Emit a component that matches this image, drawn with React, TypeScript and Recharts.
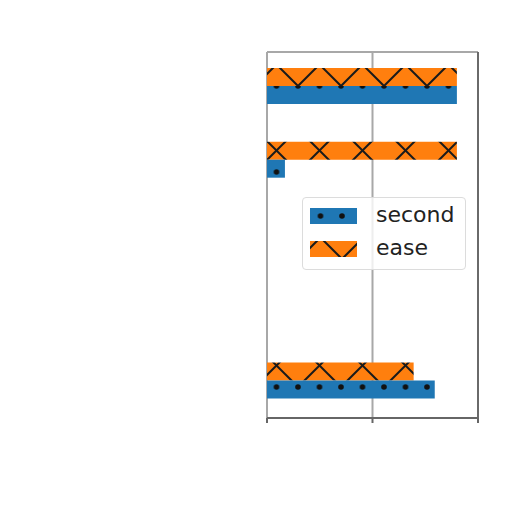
import React from 'react';
import { BarChart, Bar, XAxis, YAxis, CartesianGrid, ReferenceLine } from 'recharts';

// row positions on the numeric y axis (top to bottom)
const positions = [4, 3, 0];
const secondValues = [1.8, 0.17, 1.59];
const easeValues = [1.8, 1.8, 1.39];
const seriesNames = ['second', 'ease'];
const xTicks = [0, 1, 2];
const xDomain: [number, number] = [0, 2];
const yDomain: [number, number] = [-0.51, 4.46];

const BLUE = '#1f77b4';
const ORANGE = '#ff7f0e';

const data = positions.map((y, i) => ({ y, second: secondValues[i], ease: easeValues[i] }));

// hatch lattice anchor in page coordinates
const DOT_X = 298;
const DOT_Y = 86;
const X_P = 43;
const D_P = 21.5;

const mod = (a: number, m: number) => ((a % m) + m) % m;

function Hatches({ id, ox, oy }: { id: string; ox: number; oy: number }) {
  return (
    <defs>
      <pattern id={`${id}-dots`} patternUnits="userSpaceOnUse" width={D_P} height={D_P * 2}
        x={mod(DOT_X - ox, D_P)} y={mod(DOT_Y - oy, D_P * 2)}>
        <rect width={D_P} height={D_P * 2} fill={BLUE} />
        <circle cx={0} cy={0} r={2.8} fill="#111" />
        <circle cx={D_P} cy={0} r={2.8} fill="#111" />
        <circle cx={0} cy={D_P * 2} r={2.8} fill="#111" />
        <circle cx={D_P} cy={D_P * 2} r={2.8} fill="#111" />
        <circle cx={D_P / 2} cy={D_P} r={2.8} fill="#111" />
      </pattern>
      <pattern id={`${id}-cross`} patternUnits="userSpaceOnUse" width={X_P} height={X_P}
        x={mod(DOT_X - ox, X_P)} y={mod(DOT_Y - oy, X_P)}>
        <rect width={X_P} height={X_P} fill={ORANGE} />
        <line x1={-1} y1={-1} x2={X_P + 1} y2={X_P + 1} stroke="#1a1a1a" strokeWidth={2} />
        <line x1={X_P + 1} y1={-1} x2={-1} y2={X_P + 1} stroke="#1a1a1a" strokeWidth={2} />
      </pattern>
    </defs>
  );
}

function LegendBox() {
  const items = [
    { name: seriesNames[0], fill: 'url(#leg0-dots)', id: 'leg0', top: 207 },
    { name: seriesNames[1], fill: 'url(#leg1-cross)', id: 'leg1', top: 240 },
  ];
  return (
    <div style={{
      position: 'absolute', left: 302, top: 197, width: 162, height: 71,
      border: '1px solid #dcdcdc', borderRadius: 4, background: 'rgba(255,255,255,0.8)',
      fontFamily: '"DejaVu Sans", sans-serif', fontSize: 22, color: '#222',
    }}>
      {items.map((it, i) => (
        <div key={it.name} style={{ position: 'absolute', left: 7, top: 9 + i * 33, height: 17, display: 'flex', alignItems: 'center' }}>
          <svg width={47} height={16} style={{ display: 'block' }}>
            <Hatches id={it.id} ox={309} oy={it.top} />
            <rect width={47} height={16} fill={it.fill} />
          </svg>
          <span style={{ marginLeft: 19, lineHeight: '17px', position: 'relative', top: -1 }}>{it.name}</span>
        </div>
      ))}
    </div>
  );
}

export default function App() {
  return (
    <div style={{ position: 'absolute', left: 0, top: 0, width: 512, height: 512, background: '#fff' }}>
      <BarChart
        width={512}
        height={512}
        data={data}
        layout="vertical"
        barSize={18}
        barGap={0}
        margin={{ top: 52, right: 34, bottom: 64, left: 267 }}
      >
        <Hatches id="main" ox={0} oy={0} />
        <CartesianGrid horizontal={false} stroke="#a8a8a8" strokeWidth={2} />
        <XAxis
          type="number"
          domain={xDomain}
          ticks={xTicks}
          tickFormatter={() => ''}
          tickSize={5}
          stroke="#666"
          strokeWidth={2}
          height={30}
        />
        <YAxis type="number" dataKey="y" domain={yDomain} reversed hide />
        <ReferenceLine y={yDomain[1]} stroke="#a8a8a8" strokeWidth={2} />
        <ReferenceLine x={xDomain[1]} stroke="#6a6a6a" strokeWidth={2} />
        <Bar dataKey="ease" fill="url(#main-cross)" isAnimationActive={false} />
        <Bar dataKey="second" fill="url(#main-dots)" isAnimationActive={false} />
      </BarChart>
      <LegendBox />
    </div>
  );
}
